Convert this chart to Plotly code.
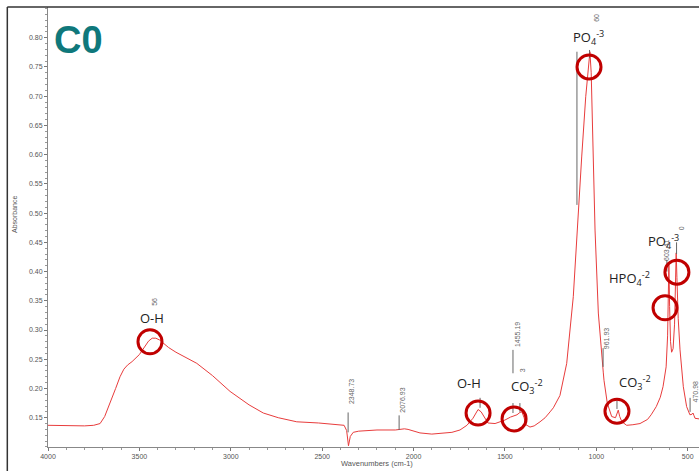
import plotly.graph_objects as go

# ---- spectrum (wavenumber cm-1, absorbance) ----
wavenumber = [4000, 3900, 3800, 3750, 3715, 3690, 3660, 3630, 3606, 3585, 3565,
              3540, 3500, 3470, 3450, 3430, 3410, 3390, 3370, 3340, 3300, 3250, 3186, 3100,
              3004, 2900, 2822, 2740, 2639, 2520, 2420, 2380, 2366, 2356, 2346,
              2330, 2300, 2200, 2100, 2077, 2050, 2030, 2000, 1965, 1900, 1855,
              1790, 1746, 1708, 1675, 1647, 1630, 1614, 1593, 1554, 1500, 1470,
              1455, 1434, 1418, 1407, 1395, 1385, 1363, 1340, 1308, 1280, 1253,
              1235, 1199, 1162, 1126, 1098, 1080, 1058, 1045, 1035, 1028, 1020,
              1007, 989, 971, 962, 958, 940, 916, 895, 880, 872, 860, 834, 800,
              761, 720, 700, 672, 650, 635, 618, 610, 606, 603, 599, 594, 588,
              580, 572, 566, 563, 559, 552, 542, 524, 506, 488, 476, 471, 466,
              460, 438]
absorbance = [0.137, 0.136, 0.136, 0.137, 0.140, 0.152, 0.175, 0.200, 0.220, 0.233, 0.240,
              0.246, 0.258, 0.272, 0.281, 0.286, 0.286, 0.283, 0.278, 0.270, 0.262, 0.254, 0.243, 0.222,
              0.195, 0.172, 0.158, 0.150, 0.143, 0.141, 0.139, 0.137, 0.128, 0.102, 0.118,
              0.125, 0.127, 0.129, 0.129, 0.130, 0.131, 0.130, 0.127, 0.124, 0.122, 0.123,
              0.125, 0.129, 0.137, 0.149, 0.164, 0.160, 0.152, 0.141, 0.140, 0.146, 0.151,
              0.153, 0.155, 0.159, 0.160, 0.150, 0.138, 0.134, 0.136, 0.143, 0.150, 0.160,
              0.167, 0.188, 0.243, 0.357, 0.511, 0.596, 0.699, 0.745, 0.776, 0.740, 0.642,
              0.471, 0.329, 0.250, 0.228, 0.214, 0.175, 0.152, 0.150, 0.163, 0.152, 0.143, 0.137, 0.138,
              0.140, 0.147, 0.155, 0.169, 0.185, 0.203, 0.237, 0.290, 0.350, 0.415, 0.340, 0.280, 0.262,
              0.268, 0.310, 0.380, 0.432, 0.390, 0.320, 0.266, 0.203, 0.169, 0.155, 0.156, 0.158, 0.154,
              0.149, 0.148]

# ---- ticks ----
y_ticks = [0.15, 0.20, 0.25, 0.30, 0.35, 0.40, 0.45, 0.50, 0.55, 0.60, 0.65, 0.70, 0.75, 0.80]
x_ticks = [4000, 3500, 3000, 2500, 2000, 1500, 1000, 500]

# ---- band labels (text, wavenumber, absorbance) ----
band_labels = [
    ("O-H", 3431, 0.321),
    ("O-H", 1697, 0.209),
    ("CO<sub>3</sub><sup>-2</sup>", 1379, 0.203),
    ("PO<sub>4</sub><sup>-3</sup>", 1045, 0.800),
    ("CO<sub>3</sub><sup>-2</sup>", 788, 0.211),
    ("HPO<sub>4</sub><sup>-2</sup>", 816, 0.388),
    ("PO<sub>4</sub><sup>-3</sup>", 630, 0.451),
]

# ---- red circles (wavenumber, absorbance) ----
circle_centers = [(3442, 0.280), (1647, 0.158), (1450, 0.148), (1040, 0.750),
                  (887, 0.161), (624, 0.338), (559, 0.399)]

# ---- grey peak-pick labels (text, wavenumber, absorbance) ----
peak_labels = [
    ("56", 3415, 0.348),
    ("2348.73", 2336, 0.194),
    ("2076.93", 2060, 0.180),
    ("1455.19", 1434, 0.293),
    ("3", 1407, 0.231),
    ("961.93", 947, 0.286),
    ("60", 996, 0.834),
    ("603.41", 613, 0.437),
    ("0", 537, 0.474),
    ("470.98", 460, 0.195),
]
# grey leader lines (wavenumber, absorbance from, absorbance to)
peak_lines = [
    (2358, 0.159, 0.125), (2079, 0.154, 0.129), (1456, 0.266, 0.226),
    (1456, 0.175, 0.158), (1418, 0.175, 0.160), (1636, 0.184, 0.167),
    (963, 0.269, 0.237), (1106, 0.776, 0.514), (1037, 0.779, 0.765),
    (887, 0.180, 0.165), (614, 0.420, 0.400), (561, 0.450, 0.430), (487, 0.184, 0.160),
]

fig = go.Figure()
fig.add_trace(go.Scatter(x=wavenumber, y=absorbance, mode="lines",
                         line=dict(color="#e83c3c", width=1), hoverinfo="skip"))

shapes = []
for wn, a0, a1 in peak_lines:
    shapes.append(dict(type="line", xref="x", yref="y", x0=wn, x1=wn, y0=a0, y1=a1,
                       line=dict(color="#666666", width=1)))
for wn, ab in circle_centers:
    shapes.append(dict(type="circle", xref="x", yref="y", xsizemode="pixel", ysizemode="pixel",
                       xanchor=wn, yanchor=ab, x0=-12, x1=12, y0=-12, y1=12,
                       line=dict(color="#c00000", width=3)))
# outer frame (left and top edges)
shapes.append(dict(type="line", xref="paper", yref="paper", x0=-0.0625, x1=-0.0625, y0=1.0, y1=-0.2,
                   line=dict(color="#333333", width=1.5)))
shapes.append(dict(type="line", xref="paper", yref="paper", x0=-0.0625, x1=1.0, y0=1.0, y1=1.0,
                   line=dict(color="#333333", width=1.5)))

annotations = []
for txt, wn, ab in peak_labels:
    annotations.append(dict(text=txt, x=wn, y=ab, xref="x", yref="y", showarrow=False,
                            textangle=-90, font=dict(size=7, color="#666666", family="Liberation Sans")))
for txt, wn, ab in band_labels:
    annotations.append(dict(text=txt, x=wn, y=ab, xref="x", yref="y", showarrow=False,
                            font=dict(size=13, color="#222222", family="Open Sans")))
annotations.append(dict(text="<b>C0</b>", x=(78 - 48) / 651, y=(447 - 40) / 440,
                        xref="paper", yref="paper", showarrow=False,
                        xanchor="center", yanchor="middle",
                        font=dict(size=38, color="#0f787b", family="Liberation Sans")))
annotations.append(dict(text="Absorbance", x=(14 - 48) / 651, y=(447 - 215) / 440,
                        xref="paper", yref="paper", xanchor="center", yanchor="middle",
                        showarrow=False, textangle=-90,
                        font=dict(size=7, color="#555555", family="Liberation Sans")))
annotations.append(dict(text="Wavenumbers (cm-1)", x=(377 - 48) / 651, y=(447 - 463) / 440,
                        xref="paper", yref="paper", showarrow=False,
                        xanchor="center", yanchor="middle",
                        font=dict(size=7.5, color="#555555", family="Liberation Sans")))

fig.update_layout(
    width=699, height=471,
    margin=dict(l=48, r=0, t=7, b=24),
    paper_bgcolor="white", plot_bgcolor="white",
    showlegend=False,
    shapes=shapes, annotations=annotations,
    xaxis=dict(range=[4000, 438.2], tickvals=x_ticks, ticktext=[str(v) for v in x_ticks],
               showgrid=False, zeroline=False, showline=True, linecolor="#888888", linewidth=1,
               ticks="outside", ticklen=3, tickcolor="#777777",
               tickfont=dict(size=7, color="#555555", family="Liberation Sans"),
               minor=dict(tick0=0, dtick=100, ticks="outside", ticklen=2, tickcolor="#999999")),
    yaxis=dict(range=[0.0999, 0.8525], tickvals=y_ticks, ticktext=["%.2f" % v for v in y_ticks],
               showgrid=False, zeroline=False, showline=True, linecolor="#888888", linewidth=1,
               ticks="outside", ticklen=3, tickcolor="#777777",
               tickfont=dict(size=7, color="#555555", family="Liberation Sans"),
               minor=dict(tick0=0.1, dtick=0.01, ticks="outside", ticklen=2, tickcolor="#999999")),
)

fig.write_html("out.html")
